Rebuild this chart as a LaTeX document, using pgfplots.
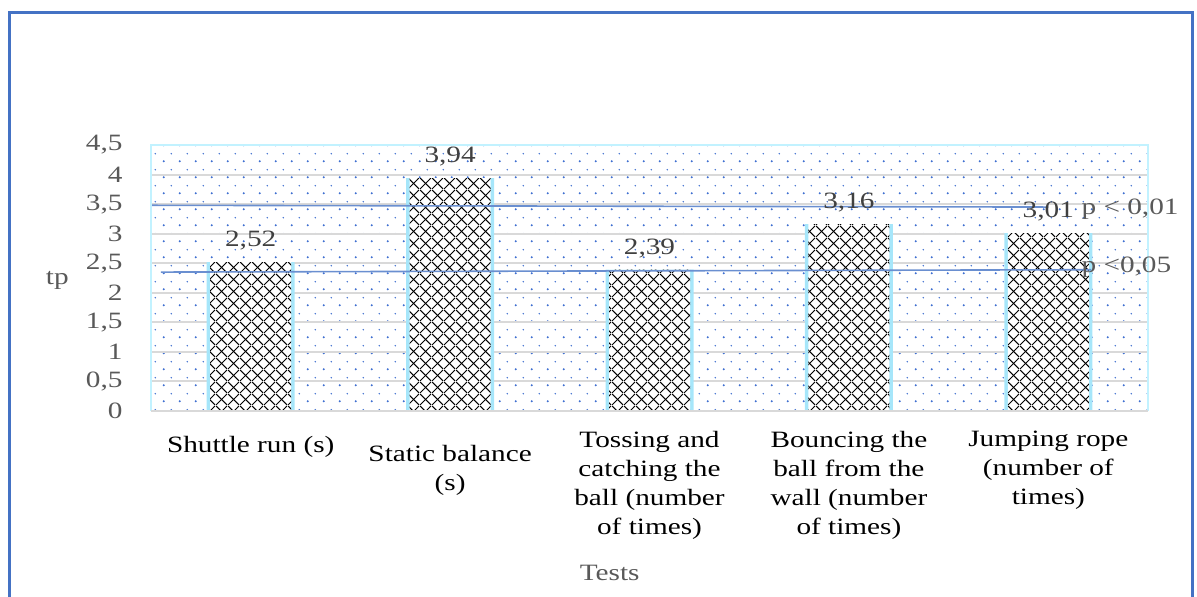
\documentclass[border=0pt]{standalone}
\usepackage{fontspec}
\setmainfont{Liberation Serif}[FakeStretch=1.25]
\usepackage{pgfplots}
\pgfplotsset{compat=1.18}
\usetikzlibrary{patterns.meta}
\definecolor{frameblue}{HTML}{4472C4}
\definecolor{dotblue}{HTML}{3F6FD0}
\definecolor{cyanborder}{HTML}{C2F2FF}
\definecolor{glow}{HTML}{A6E6FA}
\definecolor{gridgray}{HTML}{D9D9D9}
\definecolor{txtgray}{HTML}{595959}
\definecolor{lblgray}{HTML}{404040}
\definecolor{plineblue}{HTML}{6A8FD0}
\newcommand\f{\fontsize{11.7}{14.5}\selectfont}
\tikzdeclarepattern{
  name=bgdots,
  type=uncolored,
  bottom left={(0pt,0pt)},
  top right={(8pt,8pt)},
  tile size={(8pt,8pt)},
  code={\fill (2pt,2pt) circle (0.6pt); \fill (6pt,6pt) circle (0.45pt);}
}
\tikzdeclarepattern{
  name=xhatch,
  type=uncolored,
  bottom left={(0pt,0pt)},
  top right={(6pt,6pt)},
  tile size={(6pt,6pt)},
  code={\draw[line width=0.55pt] (0pt,0pt) -- (6pt,6pt); \draw[line width=0.55pt] (0pt,6pt) -- (6pt,0pt);}
}
\pgfplotstableread{
x y
0 2.52
1 3.94
2 2.39
3 3.16
4 3.01
}\bars
\begin{document}
\begin{tikzpicture}
\useasboundingbox (0,0) rectangle (598.5pt,298.5pt);
\begin{axis}[
  at={(75.5pt,93pt)}, anchor=south west,
  scale only axis, width=498.5pt, height=133pt,
  xmin=-0.5, xmax=4.5, ymin=0, ymax=4.5,
  clip=false,
  /pgf/number format/assume math mode=true,
  /pgf/number format/use comma,
  ytick={0,0.5,...,4.5},
  yticklabel style={font=\f, text=txtgray, xshift=-10.7pt},
  xtick={0,1,2,3,4},
  xticklabels={
    {\rule{0pt}{10.7pt}Shuttle run (s)},
    {\rule{0pt}{15pt}Static balance\\(s)},
    {Tossing and\\catching the\\ball (number\\of times)},
    {Bouncing the\\ball from the\\wall (number\\of times)},
    {Jumping rope\\(number of\\times)}},
  xticklabel style={font=\f, text=black, align=center, yshift=-6.7pt},
  major tick length=0pt,
  tick style={draw=none},
  axis line style={draw=none},
  ymajorgrids, grid style={gridgray, line width=1pt},
  axis background/.style={pattern=bgdots, pattern color=dotblue},
  xlabel={Tests},
  xlabel style={at={(axis description cs:0.46,0)}, anchor=center, yshift=-81pt, font=\f, text=txtgray},
  ylabel={tp},
  ylabel style={at={(axis description cs:-0.094,0.49)}, anchor=center, rotate=-90, font=\f, text=txtgray},
]
\addplot[ybar, bar width=44pt, bar shift=0pt, draw=none, fill=glow] table[x=x,y=y] {\bars};
\addplot[ybar, bar width=40.5pt, bar shift=0pt, draw=none, preaction={fill=white}, pattern=xhatch, pattern color=black,
  nodes near coords={\pgfmathprintnumber[fixed,fixed zerofill,precision=2,use comma,assume math mode=true]{\pgfplotspointmeta}},
  every node near coord/.append style={font=\f, text=lblgray, yshift=2.4pt}] table[x=x,y=y] {\bars};
\addplot[plineblue, line width=0.8pt] coordinates {(-0.5,3.48) (4.0,3.45)};
\addplot[plineblue, line width=0.8pt] coordinates {(-0.45,2.35) (4.215,2.39)};
\draw[cyanborder, line width=0.8pt] (rel axis cs:0,0) -- (rel axis cs:0,1) -- (rel axis cs:1,1) -- (rel axis cs:1,0);
\draw[gridgray, line width=1.2pt] (rel axis cs:0,0) -- (rel axis cs:1,0);
\node[anchor=base west, inner sep=0pt, font=\f, text=txtgray] at (axis cs:4.165,3.32) {p < 0,01};
\node[anchor=base west, inner sep=0pt, font=\f, text=txtgray] at (axis cs:4.165,2.35) {p <0,05};
\end{axis}
\draw[frameblue, line width=1.5pt] (4.75pt,-5pt) -- (4.75pt,292pt) -- (596pt,292pt) -- (596pt,-5pt);
\end{tikzpicture}
\end{document}
